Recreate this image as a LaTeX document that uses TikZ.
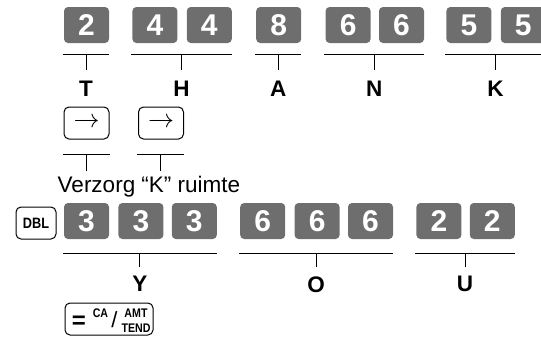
\documentclass[tikz,border=0pt]{standalone}
\usepackage{fontspec}
\setmainfont{Liberation Sans}
\usepackage{graphicx}
\usetikzlibrary{calc,positioning}
\definecolor{keygray}{HTML}{6e6e6e}

\begin{document}
\begin{tikzpicture}[x=1pt,y=-1pt,
  numkey/.style={rectangle, rounded corners=4pt, fill=keygray, text=white,
    minimum width=45pt, minimum height=36pt, inner sep=0pt,
    font=\bfseries\fontsize{30}{30}\selectfont},
  funkey/.style={rectangle, rounded corners=5pt, draw, line width=1pt,
    minimum width=45pt, minimum height=32pt, inner sep=0pt},
  letter/.style={inner sep=0pt, font=\bfseries\fontsize{22.5}{22.5}\selectfont},
  keytext/.style={inner sep=0pt, font=\bfseries\fontsize{12.5}{12.5}\selectfont},
  bar/.style={line width=1pt}]
   \useasboundingbox (0,0) rectangle (541,338);

   % first row: THANK
   \node[numkey] (t2) at (86.5,25) {2};
   \node[numkey] (hA) [right=23pt of t2] {4};
   \node[numkey] (hB) [right=9pt of hA] {4};
   \node[numkey] (a8) [right=24pt of hB] {8};
   \node[numkey] (nA) [right=24pt of a8] {6};
   \node[numkey] (nB) [right=8pt of nA] {6};
   \node[numkey] (kA) [right=22pt of nB] {5};
   \node[numkey] (kB) [right=9pt of kA] {5};

   \foreach \first/\last/\lbl in {t2/t2/T, hA/hB/H, a8/a8/A, nA/nB/N, kA/kB/K}{
     \coordinate (\lbl bl) at ($(\first.south west)+(-1,11)$);
     \coordinate (\lbl br) at ($(\last.south east)+(0,11)$);
     \coordinate (\lbl tick) at ($(\lbl bl)!0.5!(\lbl br)+(0,16)$);
     \draw[bar] (\lbl bl) -- (\lbl br) ($(\lbl bl)!0.5!(\lbl br)$) -- (\lbl tick);
     \node[letter] (\lbl label) [below=11pt of \lbl tick] {\lbl};
   }

   % cursor keys
   \node[funkey] (rA) at (86.5,123) {\scalebox{2.6}{$\rightarrow$}};
   \node[funkey] (rB) at (161,123) {\scalebox{2.6}{$\rightarrow$}};
   \foreach \key in {rA, rB}{
     \coordinate (\key bl) at ($(\key.south west)+(-1,15)$);
     \coordinate (\key br) at ($(\key.south east)+(0,15)$);
     \coordinate (\key tick) at ($(\key bl)!0.5!(\key br)+(0,16)$);
     \draw[bar] (\key bl) -- (\key br) ($(\key bl)!0.5!(\key br)$) -- (\key tick);
   }
   \node[inner sep=0pt, font=\fontsize{22.5}{22.5}\selectfont] (spacenote) at (149,187)
   {Verzorg “K” ruimte};

   % second row: YOU
   \node[funkey, minimum width=40pt, font=\bfseries\fontsize{15}{15}\selectfont]
     (dbl) at (36,223) {\scalebox{0.85}[1]{DBL}};
   \node[numkey] (yA) at (86.5,221) {3};
   \node[numkey] (yB) [right=9pt of yA] {3};
   \node[numkey] (yC) [right=8pt of yB] {3};
   \node[numkey] (oA) [right=23pt of yC] {6};
   \node[numkey] (oB) [right=9pt of oA] {6};
   \node[numkey] (oC) [right=8pt of oB] {6};
   \node[numkey] (uA) [right=23pt of oC] {2};
   \node[numkey] (uB) [right=8pt of uA] {2};

   \foreach \first/\last/\lbl in {yA/yC/Y, oA/oC/O, uA/uB/U}{
     \coordinate (\lbl bl) at ($(\first.south west)+(-1,14)$);
     \coordinate (\lbl br) at ($(\last.south east)+(0,14)$);
     \coordinate (\lbl tick) at ($(\lbl bl)!0.5!(\lbl br)+(0,14)$);
     \draw[bar] (\lbl bl) -- (\lbl br) ($(\lbl bl)!0.5!(\lbl br)$) -- (\lbl tick);
     \node[letter] (\lbl label) [below=9pt of \lbl tick] {\lbl};
   }

   % total key
   \node[funkey, minimum width=88pt] (total) at (109,319) {};
   \node[inner sep=0pt, font=\bfseries\fontsize{24}{24}\selectfont] (eq) at (79,322) {=};
   \node[keytext] (ca) at (100.5,313.5) {\scalebox{0.85}[1]{CA}};
   \node[inner sep=0pt, font=\fontsize{22}{22}\selectfont] (slash) at (114.5,319.5) {/};
   \node[keytext] (amt) at (136,313.5) {\scalebox{0.85}[1]{AMT}};
   \node[keytext] (tend) at (136,328.5) {\scalebox{0.85}[1]{TEND}};
\end{tikzpicture}
\end{document}
